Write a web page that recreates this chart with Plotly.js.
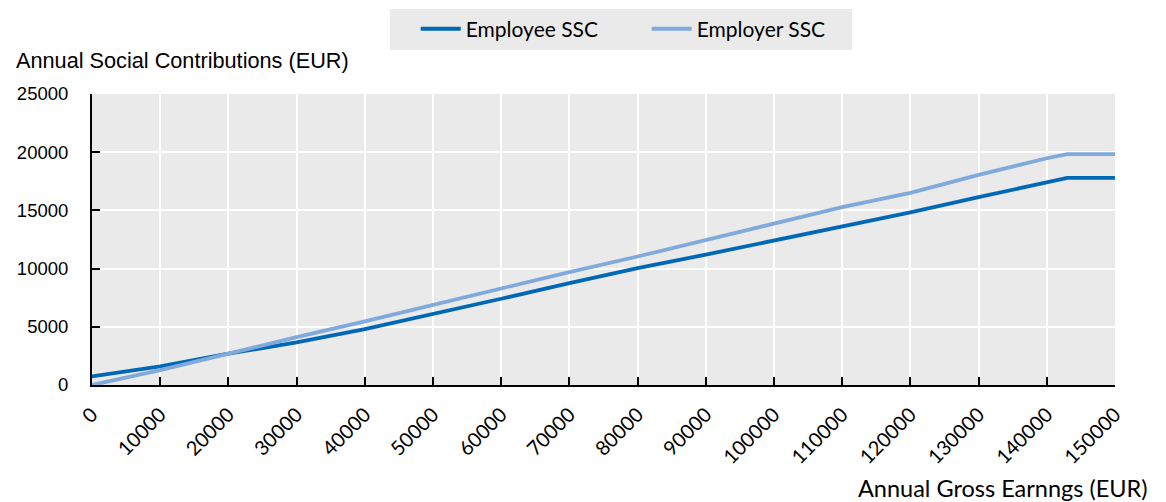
<!DOCTYPE html>
<html>
<head>
<meta charset="utf-8">
<script src="https://cdn.plot.ly/plotly-3.0.1.min.js"></script>
<style>html,body{margin:0;padding:0;background:#fff;}#chart{width:1166px;height:502px;}</style>
</head>
<body>
<div id="chart"></div>
<script>
const gross = [0, 10000, 20000, 30000, 40000, 50000, 60000, 70000, 80000, 90000, 100000, 110000, 120000, 130000, 140000, 143000, 150000];
const employeeSSC = [740, 1600, 2690, 3660, 4800, 6090, 7410, 8760, 10050, 11200, 12420, 13680, 14830, 16140, 17420, 17790, 17790];
const employerSSC = [0, 1280, 2690, 4120, 5460, 6890, 8270, 9700, 11040, 12470, 13900, 15280, 16500, 18050, 19480, 19830, 19830];
const seriesNames = ["Employee SSC", "Employer SSC"];
const xTicks = [0, 10000, 20000, 30000, 40000, 50000, 60000, 70000, 80000, 90000, 100000, 110000, 120000, 130000, 140000, 150000];
const yTicks = [0, 5000, 10000, 15000, 20000, 25000];

const calibriLike = "Lato, 'Open Sans', sans-serif";
const arialLike = "'Liberation Sans', Arial, sans-serif";

const traces = [
  {x: gross, y: employeeSSC, name: seriesNames[0], type: "scatter", mode: "lines",
   line: {color: "#0068B4", width: 3.8}},
  {x: gross, y: employerSSC, name: seriesNames[1], type: "scatter", mode: "lines",
   line: {color: "#80A9DC", width: 3.8}}
];

const layout = {
  width: 1166, height: 502,
  margin: {l: 92, r: 51, t: 94, b: 117, autoexpand: false},
  paper_bgcolor: "#ffffff",
  plot_bgcolor: "#EAEAEA",
  showlegend: true,
  legend: {
    orientation: "h", x: 0.291, xanchor: "left", y: 1.223, yanchor: "middle",
    bgcolor: "#EAEAEA", font: {family: calibriLike, size: 21, color: "#000"},
    entrywidth: 150, entrywidthmode: "pixels", indentation: 26,
    itemwidth: 40, tracegroupgap: 0, traceorder: "normal"
  },
  xaxis: {
    range: [0, 150000], tickvals: xTicks, ticktext: xTicks.map(String),
    tickangle: -45, ticks: "inside", ticklen: 8, tickwidth: 2, tickcolor: "#000",
    showline: true, linecolor: "#000", linewidth: 2,
    showgrid: true, gridcolor: "#ffffff", gridwidth: 2, zeroline: false,
    tickfont: {family: calibriLike, size: 20, color: "#000"},
    ticklabelstandoff: 8, fixedrange: true
  },
  yaxis: {
    range: [0, 25000], tickvals: yTicks, ticktext: yTicks.map(String),
    ticks: "inside", ticklen: 8, tickwidth: 2, tickcolor: "#000",
    showline: true, linecolor: "#000", linewidth: 2,
    showgrid: true, gridcolor: "#ffffff", gridwidth: 2, zeroline: false,
    tickfont: {family: arialLike, size: 18.5, color: "#000"},
    ticklabelstandoff: 18, fixedrange: true
  },
  annotations: [
    {text: "Annual Social Contributions (EUR)", xref: "paper", yref: "paper",
     x: -0.076, y: 1.115, xanchor: "left", yanchor: "middle", showarrow: false,
     font: {family: arialLike, size: 21.7, color: "#000"}},
    {text: "Annual Gross Earnngs (EUR)", xref: "paper", yref: "paper",
     x: 1.034, y: -0.355, xanchor: "right", yanchor: "middle", showarrow: false,
     font: {family: calibriLike, size: 23.5, color: "#000"}}
  ]
};

Plotly.newPlot("chart", traces, layout, {displayModeBar: false, staticPlot: true});
</script>
</body>
</html>
